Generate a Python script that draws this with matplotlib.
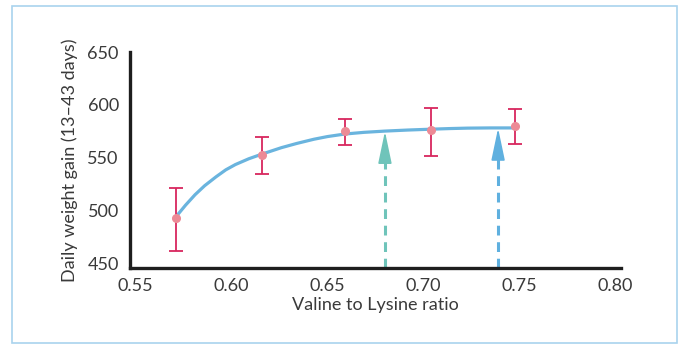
import matplotlib
matplotlib.use('Agg')
import matplotlib.pyplot as plt
from matplotlib.patches import Rectangle

# measured means and error bar limits
ratio = [0.571, 0.616, 0.659, 0.704, 0.748]
gain = [493, 553, 575, 576, 580]
err_low = [462, 535, 562, 552, 563]
err_high = [521, 570, 587, 597, 596]

# fitted response curve
curve_x = [0.571, 0.576, 0.581, 0.586, 0.592, 0.597, 0.602, 0.609, 0.616, 0.621,
           0.626, 0.634, 0.643, 0.650, 0.659, 0.669, 0.680, 0.692, 0.704, 0.714,
           0.723, 0.735, 0.748]
curve_y = [494, 505, 515, 523.5, 532, 538.5, 543.5, 549, 553.5, 556.5,
           559.5, 563.5, 567.5, 570, 572.4, 574, 575.2, 576.2, 577, 577.6,
           578, 578.2, 578.2]

# optimum estimates (arrows)
opt_x = [0.680, 0.739]
opt_y = [575, 578]
opt_colors = ['#6fc4ba', '#5fb0df']

plt.rcParams['font.family'] = ['Lato', 'DejaVu Sans']
txt = '#3a3a3a'

fig = plt.figure(figsize=(6.8, 3.45), dpi=100)
ax = fig.add_axes([0.191, 0.223, 0.722, 0.626])

ax.plot(curve_x, curve_y, color='#6ab4de', lw=2.3, zorder=2,
        solid_capstyle='round', solid_joinstyle='round')

yerr = [[g - lo for g, lo in zip(gain, err_low)], [hi - g for g, hi in zip(gain, err_high)]]
ax.errorbar(ratio, gain, yerr=yerr, fmt='o', color='#ec8a96', ms=5.5,
            ecolor='#d8265e', elinewidth=1.3, capsize=4.8, capthick=1.3, zorder=3)

y0 = 445.5
for x, y, c in zip(opt_x, opt_y, opt_colors):
    ax.plot([x, x], [y0, y - 22], color=c, lw=2.2, ls=(0, (3.2, 2.2)), zorder=1)
    ax.annotate('', xy=(x, y), xytext=(x, y - 27),
                arrowprops=dict(arrowstyle='-|>,head_length=2.0,head_width=0.42',
                                color=c, lw=1.2, mutation_scale=10,
                                shrinkA=0, shrinkB=0), zorder=4)

ax.set_xlim(0.547, 0.803)
ax.set_ylim(y0, 649)
ax.set_xticks([0.55, 0.60, 0.65, 0.70, 0.75, 0.80])
ax.set_xticklabels(['0.55', '0.60', '0.65', '0.70', '0.75', '0.80'])
ax.set_yticks([450, 500, 550, 600, 650])
ax.tick_params(length=0, labelsize=13, colors=txt, pad=7)
ax.tick_params(axis='y', pad=8)

for s in ['top', 'right']:
    ax.spines[s].set_visible(False)
for s in ['left', 'bottom']:
    ax.spines[s].set_linewidth(2.4)
    ax.spines[s].set_color('#1e1e1e')

ax.set_xlabel('Valine to Lysine ratio', fontsize=13, color=txt, labelpad=2)
ax.set_ylabel('Daily weight gain (13–43 days)', fontsize=13, color=txt, labelpad=7)

fig.patches.append(Rectangle((12 / 680, 2 / 345), 665 / 680, 337 / 345,
                             transform=fig.transFigure, fill=False,
                             edgecolor='#a9d3ee', lw=1.2))

fig.savefig('out.png', dpi=100)
